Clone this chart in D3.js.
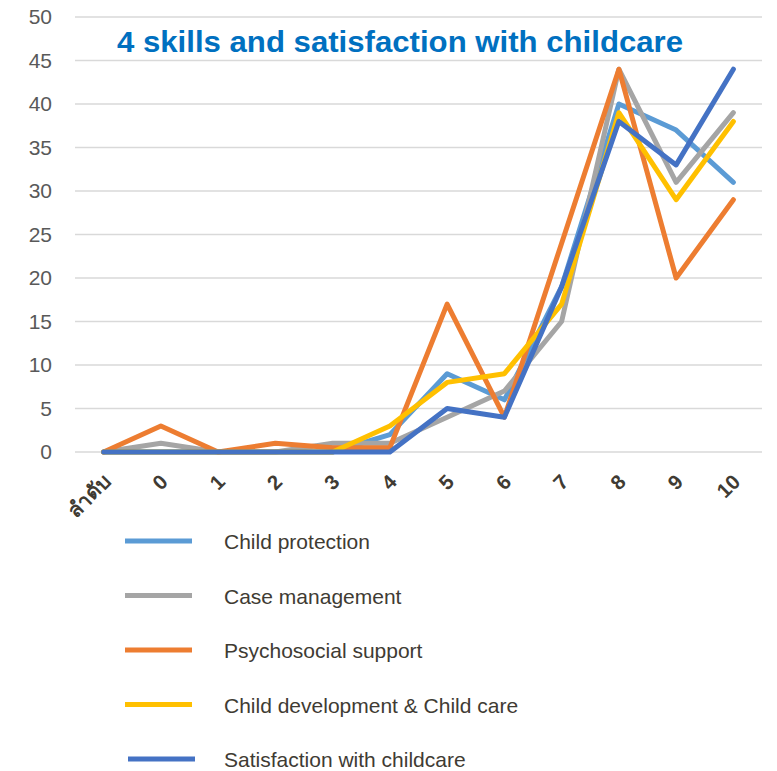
<!DOCTYPE html>
<html>
<head>
<meta charset="utf-8">
<script src="https://cdn.jsdelivr.net/npm/d3@7"></script>
<style>
  html, body { margin: 0; padding: 0; background: #fff; }
  svg { display: block; }
</style>
</head>
<body>
<svg id="chart" width="777" height="771"></svg>
<script>
// Score categories along the x axis
const categories = ["ลำดับ", "0", "1", "2", "3", "4", "5", "6", "7", "8", "9", "10"];

// Series values, one per category
const childProtection   = [0, 0, 0, 0, 0, 2, 9, 6, 19, 40, 37, 31];
const caseManagement    = [0, 1, 0, 0, 1, 1, 4, 7, 15, 44, 31, 39];
const psychosocial      = [0, 3, 0, 1, 0.5, 0.5, 17, 4, 24, 44, 20, 29];
const childDevelopment  = [0, 0, 0, 0, 0, 3, 8, 9, 17, 39, 29, 38];
const satisfaction      = [0, 0, 0, 0, 0, 0, 5, 4, 19, 38, 33, 44];

const seriesNames  = ["Child protection", "Case management", "Psychosocial support",
                      "Child development & Child care", "Satisfaction with childcare"];
const seriesValues = [childProtection, caseManagement, psychosocial, childDevelopment, satisfaction];
const seriesColors = ["#5B9BD5", "#A5A5A5", "#ED7D31", "#FFC000", "#4472C4"];

const yTicks = [0, 5, 10, 15, 20, 25, 30, 35, 40, 45, 50];
const title = "4 skills and satisfaction with childcare";

const svg = d3.select("#chart");
const font = "Arial, 'Liberation Sans', 'DejaVu Sans', sans-serif";

const x = d3.scaleBand().domain(categories).range([75, 762]);
const y = d3.scaleLinear().domain([0, 50]).range([452, 17]);

// Horizontal gridlines
svg.append("g")
  .selectAll("line")
  .data(yTicks)
  .join("line")
  .attr("x1", 75).attr("x2", 762)
  .attr("y1", d => y(d)).attr("y2", d => y(d))
  .attr("stroke", "#d9d9d9").attr("stroke-width", 1.5);

// Y axis labels
const yAxis = d3.axisLeft(y).tickValues(yTicks).tickSize(0).tickPadding(0);
const yg = svg.append("g").attr("transform", "translate(52,0)").call(yAxis);
yg.select(".domain").remove();
yg.selectAll("text")
  .attr("font-family", font).attr("font-size", 21).attr("fill", "#595959");

// X axis labels (rotated)
const xAxis = d3.axisBottom(x).tickSize(0).tickPadding(0);
const xg = svg.append("g").attr("transform", "translate(0,452)").call(xAxis);
xg.select(".domain").remove();
xg.selectAll("text")
  .attr("font-family", font).attr("font-size", 20.5).attr("font-weight", "bold")
  .attr("fill", "#403B33")
  .attr("text-anchor", "end")
  .attr("dy", "0.35em").attr("y", 0)
  .attr("transform", "translate(3,26) rotate(-45)");

// Lines
const line = d3.line()
  .x((d, i) => x(categories[i]) + x.bandwidth() / 2)
  .y(d => y(d));

svg.append("g")
  .selectAll("path")
  .data(seriesValues)
  .join("path")
  .attr("d", d => line(d))
  .attr("fill", "none")
  .attr("stroke", (d, i) => seriesColors[i])
  .attr("stroke-width", 5)
  .attr("stroke-linejoin", "round")
  .attr("stroke-linecap", "round");

// Title
svg.append("text")
  .attr("x", 117).attr("y", 52)
  .attr("font-family", font).attr("font-size", 30).attr("font-weight", "bold")
  .attr("fill", "#0070C0")
  .attr("textLength", 566).attr("lengthAdjust", "spacingAndGlyphs")
  .text(title);

// Legend
const legend = svg.append("g")
  .selectAll("g")
  .data(seriesNames)
  .join("g")
  .attr("transform", (d, i) => `translate(${i === 4 ? 128 : 125},${541 + i * 54.5})`);

legend.append("line")
  .attr("x1", 0).attr("x2", 67).attr("y1", 0).attr("y2", 0)
  .attr("stroke", (d, i) => seriesColors[i]).attr("stroke-width", 5);

legend.append("text")
  .attr("x", (d, i) => i === 4 ? 96 : 99).attr("y", 8)
  .attr("font-family", font).attr("font-size", 21).attr("fill", "#403B33")
  .text(d => d);
</script>
</body>
</html>
